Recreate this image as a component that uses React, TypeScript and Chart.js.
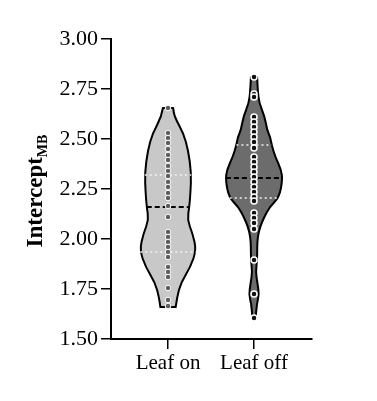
import React, { useEffect, useRef } from "react";
import { Chart, registerables } from "chart.js";

Chart.register(...registerables);

const categories = ["Leaf on", "Leaf off"];
const yTickValues = [1.5, 1.75, 2.0, 2.25, 2.5, 2.75, 3.0];

// Violin density profiles (value, relative density)
const leafOnDensityY = [2.655, 2.61, 2.53, 2.445, 2.33, 2.23, 2.16, 2.095, 2.03, 1.945, 1.86, 1.78, 1.71, 1.66];
const leafOnDensity = [0.18, 0.23, 0.54, 0.71, 0.82, 0.79, 0.75, 0.68, 0.86, 1.0, 0.79, 0.45, 0.32, 0.27];
const leafOffDensityY = [2.81, 2.745, 2.68, 2.61, 2.545, 2.51, 2.47, 2.41, 2.345, 2.295, 2.21, 2.16, 2.11, 2.06, 2.01, 1.96, 1.895, 1.835, 1.78, 1.72, 1.68, 1.61];
const leafOffDensity = [0.11, 0.13, 0.18, 0.38, 0.46, 0.57, 0.62, 0.75, 0.96, 1.0, 0.89, 0.55, 0.36, 0.21, 0.13, 0.11, 0.11, 0.06, 0.12, 0.18, 0.1, 0.06];

// Observations
const leafOnValues = [2.655, 2.53, 2.505, 2.48, 2.45, 2.42, 2.395, 2.365, 2.34, 2.315, 2.285, 2.26, 2.23, 2.205, 2.165, 2.11, 2.035, 2.01, 1.985, 1.96, 1.935, 1.91, 1.86, 1.835, 1.81, 1.755, 1.695, 1.665];
const leafOffValues = [2.81, 2.725, 2.71, 2.61, 2.585, 2.56, 2.535, 2.51, 2.485, 2.455, 2.41, 2.385, 2.36, 2.335, 2.31, 2.285, 2.26, 2.235, 2.21, 2.19, 2.13, 2.105, 2.08, 2.05, 1.895, 1.725, 1.605];

// Summary statistics [q1, median, q3]
const leafOnStats = [1.935, 2.16, 2.32];
const leafOffStats = [2.205, 2.305, 2.47];

const FONT = "'Liberation Serif', 'Times New Roman', serif";
const MAX_HALF_WIDTH = 0.33; // in x-axis units

const violins = [
  { pos: 1, ys: leafOnDensityY, ds: leafOnDensity, stats: leafOnStats, fill: "#c8c8c8" },
  { pos: 2, ys: leafOffDensityY, ds: leafOffDensity, stats: leafOffStats, fill: "#6c6c6c" },
];

function halfAt(ys: number[], ds: number[], v: number) {
  for (let i = 0; i < ys.length - 1; i++) {
    const a = ys[i], b = ys[i + 1];
    if (v <= a && v >= b) {
      const t = (a - v) / (a - b || 1);
      return (ds[i] + (ds[i + 1] - ds[i]) * t) * MAX_HALF_WIDTH;
    }
  }
  return 0;
}

const violinPlugin = {
  id: "violins",
  beforeDatasetsDraw(chart: any) {
    const { ctx, scales } = chart;
    const xs = scales.x, ys = scales.y;
    violins.forEach((v) => {
      const left = v.ys.map((y, i) => [xs.getPixelForValue(v.pos - v.ds[i] * MAX_HALF_WIDTH), ys.getPixelForValue(y)]);
      const right = v.ys.map((y, i) => [xs.getPixelForValue(v.pos + v.ds[i] * MAX_HALF_WIDTH), ys.getPixelForValue(y)]).reverse();
      ctx.save();
      ctx.beginPath();
      const smooth = (pts: number[][], first: boolean) => {
        if (first) ctx.moveTo(pts[0][0], pts[0][1]);
        else ctx.lineTo(pts[0][0], pts[0][1]);
        for (let i = 1; i < pts.length - 1; i++) {
          const mx = (pts[i][0] + pts[i + 1][0]) / 2;
          const my = (pts[i][1] + pts[i + 1][1]) / 2;
          ctx.quadraticCurveTo(pts[i][0], pts[i][1], mx, my);
        }
        ctx.lineTo(pts[pts.length - 1][0], pts[pts.length - 1][1]);
      };
      smooth(left, true);
      smooth(right, false);
      ctx.closePath();
      ctx.fillStyle = v.fill;
      ctx.fill();
      ctx.lineWidth = 2;
      ctx.strokeStyle = "#000";
      ctx.lineJoin = "round";
      ctx.stroke();

      // quartiles and median
      v.stats.forEach((s, k) => {
        const hw = halfAt(v.ys, v.ds, s);
        const py = ys.getPixelForValue(s);
        ctx.beginPath();
        ctx.moveTo(xs.getPixelForValue(v.pos - hw), py);
        ctx.lineTo(xs.getPixelForValue(v.pos + hw), py);
        if (k === 1) {
          ctx.setLineDash([5, 3]);
          ctx.lineWidth = 2;
          ctx.strokeStyle = "#000";
        } else {
          ctx.setLineDash([2, 3]);
          ctx.lineWidth = 1.5;
          ctx.strokeStyle = "#f2f2f2";
        }
        ctx.stroke();
      });
      ctx.restore();
    });
  },
  afterDraw(chart: any) {
    const { ctx, chartArea } = chart;
    ctx.save();
    const cy = (chartArea.top + chartArea.bottom) / 2 + 2;
    ctx.translate(42, cy);
    ctx.rotate(-Math.PI / 2);
    const main = "Intercept";
    const sub = "MB";
    ctx.font = `bold 23px ${FONT}`;
    const w1 = ctx.measureText(main).width;
    ctx.font = `bold 14px ${FONT}`;
    const w2 = ctx.measureText(sub).width;
    const start = -(w1 + w2) / 2;
    ctx.fillStyle = "#000";
    ctx.textBaseline = "alphabetic";
    ctx.font = `bold 23px ${FONT}`;
    ctx.fillText(main, start, 0);
    ctx.font = `bold 14px ${FONT}`;
    ctx.fillText(sub, start + w1, 5);
    ctx.restore();
  },
};

export default function App() {
  const ref = useRef<HTMLCanvasElement>(null);
  useEffect(() => {
    document.body.style.margin = "0";
    const chart = new Chart(ref.current!, {
      type: "scatter",
      data: {
        datasets: [
          {
            label: categories[0],
            data: leafOnValues.map((v) => ({ x: 1, y: v })),
            backgroundColor: "#5e5e5e",
            borderColor: "#ffffff",
            borderWidth: 1,
            pointRadius: 2.8,
          },
          {
            label: categories[1],
            data: leafOffValues.map((v) => ({ x: 2, y: v })),
            backgroundColor: "#111111",
            borderColor: "#ffffff",
            borderWidth: 1.5,
            pointRadius: 3,
          },
        ],
      },
      options: {
        animation: false,
        responsive: false,
        layout: { padding: { left: 0, top: 39, right: 65, bottom: 0 } },
        plugins: { legend: { display: false }, tooltip: { enabled: false } },
        scales: {
          x: {
            type: "linear",
            min: 0.337,
            max: 2.674,
            afterBuildTicks: (scale: any) => {
              scale.ticks = categories.map((_, i) => ({ value: i + 1 }));
            },
            afterFit: (scale: any) => {
              scale.height = 62;
            },
            ticks: {
              callback: (v: any) => categories[Number(v) - 1] ?? "",
              color: "#000",
              font: { family: FONT, size: 21 },
              padding: 2,
              maxRotation: 0,
            },
            grid: { drawOnChartArea: false, drawTicks: true, tickLength: 10, color: "#000", lineWidth: 1.5 },
            border: { display: true, color: "#000", width: 2 },
          },
          y: {
            min: 1.5,
            max: 3.0,
            afterBuildTicks: (scale: any) => {
              scale.ticks = yTickValues.map((v) => ({ value: v }));
            },
            afterFit: (scale: any) => {
              scale.width = 111;
            },
            ticks: {
              callback: (v: any) => Number(v).toFixed(2),
              color: "#000",
              font: { family: FONT, size: 22 },
              padding: 3,
            },
            grid: { drawOnChartArea: false, drawTicks: true, tickLength: 10, color: "#000", lineWidth: 1.5 },
            border: { display: true, color: "#000", width: 2 },
          },
        },
      },
      plugins: [violinPlugin],
    });
    return () => chart.destroy();
  }, []);
  return (
    <div style={{ width: 377, height: 401, background: "#fff" }}>
      <canvas ref={ref} width={377} height={401} />
    </div>
  );
}
